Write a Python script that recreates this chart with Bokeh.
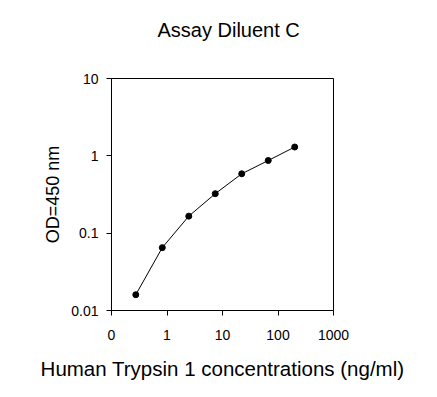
from bokeh.plotting import figure
from bokeh.models import Range1d, FixedTicker, CustomJSTickFormatter, ColumnDataSource, Title
from bokeh.embed import file_html
from bokeh.resources import INLINE

# data
concentration = [0.274, 0.823, 2.47, 7.41, 22.2, 66.7, 200.0]
od450 = [0.016, 0.065, 0.166, 0.324, 0.586, 0.87, 1.30]

x_ticks = [0.1, 1, 10, 100, 1000]
x_tick_labels = ["0", "1", "10", "100", "1000"]
y_ticks = [0.01, 0.1, 1, 10]
y_tick_labels = ["0.01", "0.1", "1", "10"]

title_text = "Assay Diluent C"
x_label = "Human Trypsin 1 concentrations (ng/ml)"
y_label = "OD=450 nm"

FONT = "Liberation Sans"

p = figure(width=437, height=397, x_axis_type="log", y_axis_type="log",
           x_range=Range1d(x_ticks[0], x_ticks[-1]), y_range=Range1d(y_ticks[0], y_ticks[-1]),
           output_backend="svg", toolbar_location=None,
           min_border_left=111, min_border_right=104,
           min_border_top=78, min_border_bottom=87)

# spacer between frame and title
p.add_layout(Title(text=" ", text_font_size="1px", standoff=30), "above")

p.title.text = title_text
p.title.text_font = FONT
p.title.text_font_size = "20px"
p.title.text_font_style = "normal"
p.title.text_color = "black"
p.title.align = "left"
p.title.offset = 46
p.title.standoff = 10

p.xgrid.visible = False
p.ygrid.visible = False
p.outline_line_color = "black"
p.outline_line_width = 1
p.background_fill_color = "white"
p.border_fill_color = "white"

fmt_code = """
let best = -1, bd = 1e9;
for (let i = 0; i < tvals.length; i++) {
  const d = Math.abs(Math.log10(tvals[i]) - Math.log10(tick));
  if (d < bd) { bd = d; best = i; }
}
return bd < 1e-6 ? tlabels[best] : "";
"""

for ax, ticks, labels, lab in [(p.xaxis[0], x_ticks, x_tick_labels, x_label),
                               (p.yaxis[0], y_ticks, y_tick_labels, y_label)]:
    ax.ticker = FixedTicker(ticks=ticks, minor_ticks=[])
    ax.formatter = CustomJSTickFormatter(args=dict(tvals=ticks, tlabels=labels), code=fmt_code)
    ax.axis_label = lab
    ax.axis_label_text_font = FONT
    ax.axis_label_text_font_style = "normal"
    ax.axis_label_text_color = "black"
    ax.major_label_text_font = FONT
    ax.major_label_text_font_size = "14px"
    ax.major_label_text_color = "black"
    ax.axis_line_color = "black"
    ax.major_tick_line_color = "black"
    ax.major_tick_out = 5
    ax.major_tick_in = 0
    ax.minor_tick_line_color = None

p.xaxis.axis_label_text_font_size = "20.5px"
p.yaxis.axis_label_text_font_size = "18px"
p.xaxis.major_label_standoff = 14
p.yaxis.major_label_standoff = 8
p.xaxis.axis_label_standoff = 14
p.yaxis.axis_label_standoff = 5

src = ColumnDataSource(dict(x=concentration, y=od450))
p.line("x", "y", source=src, line_color="black", line_width=1)
p.scatter("x", "y", source=src, size=6, fill_color="black", line_color="black")

open("out.html", "w").write(file_html(p, INLINE))
